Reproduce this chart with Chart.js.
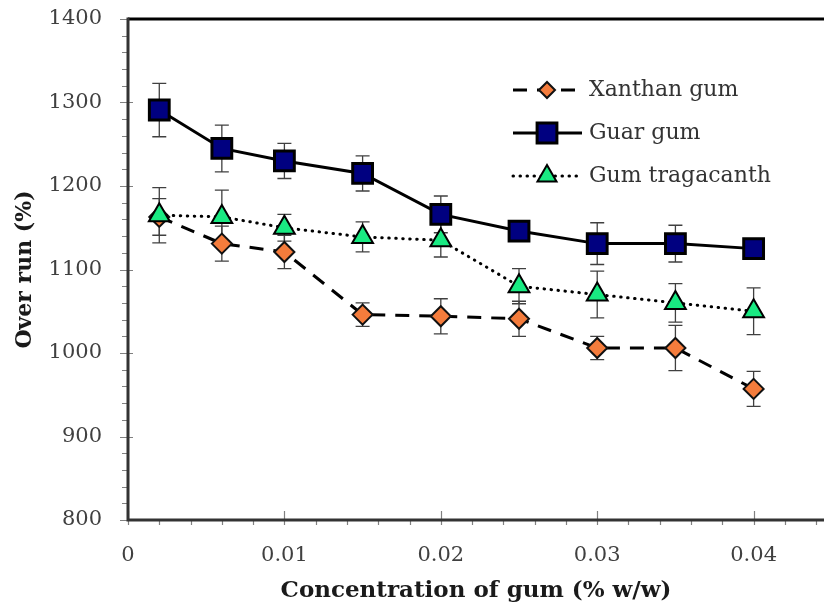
<!DOCTYPE html>
<html>
<head>
<meta charset="utf-8">
<script src="https://cdn.jsdelivr.net/npm/chart.js@4.4.1/dist/chart.umd.min.js"></script>
<style>
  html, body { margin: 0; padding: 0; background: #fff; overflow: hidden; }
  canvas { display: block; }
</style>
</head>
<body>
<canvas id="chart" width="824" height="603" style="width:824px;height:603px"></canvas>
<script>
// concentration of gum (% w/w)
const concentrations = [0.002, 0.006, 0.01, 0.015, 0.02, 0.025, 0.03, 0.035, 0.04];

// over run (%) per gum
const xanthanGum = [1163, 1131, 1121, 1046, 1044, 1041, 1006, 1006, 957];
const guarGum = [1291, 1245, 1230, 1215, 1166, 1146, 1131, 1131, 1125];
const gumTragacanth = [1165, 1163, 1150, 1139, 1135, 1080, 1070, 1060, 1050];

// error bar half-lengths
const xanthanErr = [22, 21, 20, 14, 21, 21, 14, 27, 21];
const guarErr = [32, 28, 21, 21, 22, 8, 25, 22, 8];
const tragacanthErr = [33, 32, 16, 18, 20, 21, 28, 23, 28];

const xTicks = [0, 0.01, 0.02, 0.03, 0.04];
const yTicks = [800, 900, 1000, 1100, 1200, 1300, 1400];

const serif = "'DejaVu Serif', serif";

function toPoints(values) {
    return values.map((v, i) => ({ x: concentrations[i], y: v }));
}

const datasets = [
    {
        label: 'Xanthan gum',
        data: toPoints(xanthanGum),
        errors: xanthanErr,
        borderColor: '#000',
        borderWidth: 3,
        borderDash: [14, 10],
        pointStyle: 'rectRot',
        pointRadius: 10,
        pointBackgroundColor: '#F47C3C',
        pointBorderColor: '#111',
        pointBorderWidth: 2,
        legendRadius: 8,
        order: 3
    },
    {
        label: 'Guar gum',
        data: toPoints(guarGum),
        errors: guarErr,
        borderColor: '#000',
        borderWidth: 3,
        borderDash: [],
        pointStyle: 'rect',
        pointRadius: 14,
        pointBackgroundColor: '#000080',
        pointBorderColor: '#000',
        pointBorderWidth: 3,
        legendRadius: 14,
        order: 2
    },
    {
        label: 'Gum tragacanth',
        data: toPoints(gumTragacanth),
        errors: tragacanthErr,
        borderColor: '#000',
        borderWidth: 3,
        borderDash: [0.5, 6.5],
        borderCapStyle: 'round',
        pointStyle: 'triangle',
        pointRadius: 12,
        pointBackgroundColor: '#19EA82',
        pointBorderColor: '#000',
        pointBorderWidth: 2,
        legendRadius: 11,
        order: 1
    }
];

// error bars, minor ticks, frame and the legend inside the plot
const decorPlugin = {
    id: 'decor',
    beforeDatasetsDraw(chart) {
        const ctx = chart.ctx;
        const xs = chart.scales.x, ys = chart.scales.y;
        ctx.save();
        ctx.strokeStyle = '#404040';
        ctx.lineWidth = 1.3;
        chart.data.datasets.forEach(ds => {
            ds.data.forEach((p, i) => {
                const e = ds.errors[i];
                const px = xs.getPixelForValue(p.x);
                const top = ys.getPixelForValue(p.y + e);
                const bot = ys.getPixelForValue(p.y - e);
                ctx.beginPath();
                ctx.moveTo(px, top); ctx.lineTo(px, bot);
                ctx.moveTo(px - 7, top); ctx.lineTo(px + 7, top);
                ctx.moveTo(px - 7, bot); ctx.lineTo(px + 7, bot);
                ctx.stroke();
            });
        });
        ctx.restore();
    },
    afterDraw(chart) {
        const ctx = chart.ctx;
        const xs = chart.scales.x, ys = chart.scales.y;
        const area = chart.chartArea;
        ctx.save();

        // tick marks
        ctx.strokeStyle = '#808080';
        ctx.lineWidth = 1.2;
        ctx.beginPath();
        for (let k = 0; k <= 30; k++) {
            const v = 800 + k * 20;
            const py = Math.round(ys.getPixelForValue(v)) + 0.5;
            if (k % 5 === 0) {
                ctx.moveTo(area.left - 8, py); ctx.lineTo(area.left + 5, py);
            } else {
                ctx.moveTo(area.left - 6, py); ctx.lineTo(area.left, py);
            }
        }
        for (let k = 0; k <= 22; k++) {
            const px = Math.round(xs.getPixelForValue(k * 0.002)) + 0.5;
            if (k % 5 === 0) {
                ctx.moveTo(px, area.bottom - 9); ctx.lineTo(px, area.bottom + 5);
            } else {
                ctx.moveTo(px, area.bottom); ctx.lineTo(px, area.bottom + 5);
            }
        }
        ctx.stroke();

        // frame
        ctx.lineWidth = 3;
        ctx.strokeStyle = '#000';
        ctx.beginPath();
        ctx.moveTo(area.left, area.top); ctx.lineTo(area.right, area.top);
        ctx.stroke();
        ctx.strokeStyle = '#333';
        ctx.beginPath();
        ctx.moveTo(area.left, area.top - 1.5); ctx.lineTo(area.left, area.bottom);
        ctx.lineTo(area.right, area.bottom);
        ctx.stroke();

        // legend
        const rows = [90, 133, 176];
        chart.data.datasets.forEach((ds, i) => {
            const y = rows[i];
            ctx.save();
            ctx.strokeStyle = ds.borderColor;
            ctx.lineWidth = 3;
            ctx.lineCap = ds.borderCapStyle || 'butt';
            ctx.setLineDash(ds.borderDash);
            ctx.beginPath();
            ctx.moveTo(513, y); ctx.lineTo(582, y);
            ctx.stroke();
            ctx.setLineDash([]);
            ctx.fillStyle = ds.pointBackgroundColor;
            ctx.strokeStyle = ds.pointBorderColor;
            ctx.lineWidth = ds.pointBorderWidth;
            Chart.helpers.drawPoint(ctx, {
                pointStyle: ds.pointStyle,
                radius: ds.legendRadius,
                rotation: 0,
                borderWidth: ds.pointBorderWidth
            }, 547, y);
            ctx.restore();
            ctx.fillStyle = '#333';
            ctx.font = "22px " + serif;
            ctx.textBaseline = 'middle';
            ctx.textAlign = 'left';
            ctx.fillText(ds.label, 589, y);
        });
        ctx.restore();
    }
};

new Chart(document.getElementById('chart'), {
    type: 'line',
    data: { datasets: datasets },
    options: {
        responsive: false,
        animation: false,
        layout: { autoPadding: false, padding: { left: 0, right: 0, top: 19, bottom: 0 } },
        plugins: {
            legend: { display: false },
            tooltip: { enabled: false }
        },
        scales: {
            x: {
                type: 'linear',
                min: 0,
                max: 0.0445,
                afterFit(scale) {
                    scale.height = 83;
                    scale.paddingLeft = 0;
                    scale.paddingRight = 0;
                },
                afterBuildTicks(scale) { scale.ticks = xTicks.map(v => ({ value: v })); },
                grid: { display: false, drawTicks: false },
                border: { display: false },
                ticks: {
                    padding: 23,
                    color: '#404040',
                    font: { family: serif, size: 21 },
                    callback: v => String(+v.toFixed(2))
                },
                title: {
                    display: true,
                    text: 'Concentration of gum (% w/w)',
                    color: '#1a1a1a',
                    font: { family: serif, size: 23, weight: 'bold', lineHeight: 1 },
                    padding: { top: 0, bottom: 0 }
                }
            },
            y: {
                min: 800,
                max: 1400,
                afterFit(scale) {
                    scale.width = 128;
                    scale.paddingTop = 0;
                    scale.paddingBottom = 0;
                },
                afterBuildTicks(scale) { scale.ticks = yTicks.map(v => ({ value: v })); },
                grid: { display: false, drawTicks: false },
                border: { display: false },
                ticks: {
                    padding: 26,
                    color: '#404040',
                    font: { family: serif, size: 21 },
                    callback: v => String(v)
                },
                title: {
                    display: true,
                    text: 'Over run (%)',
                    color: '#1a1a1a',
                    font: { family: serif, size: 22, weight: 'bold' },
                    padding: { top: 12, bottom: 0 }
                }
            }
        }
    },
    plugins: [decorPlugin]
});
</script>
</body>
</html>
